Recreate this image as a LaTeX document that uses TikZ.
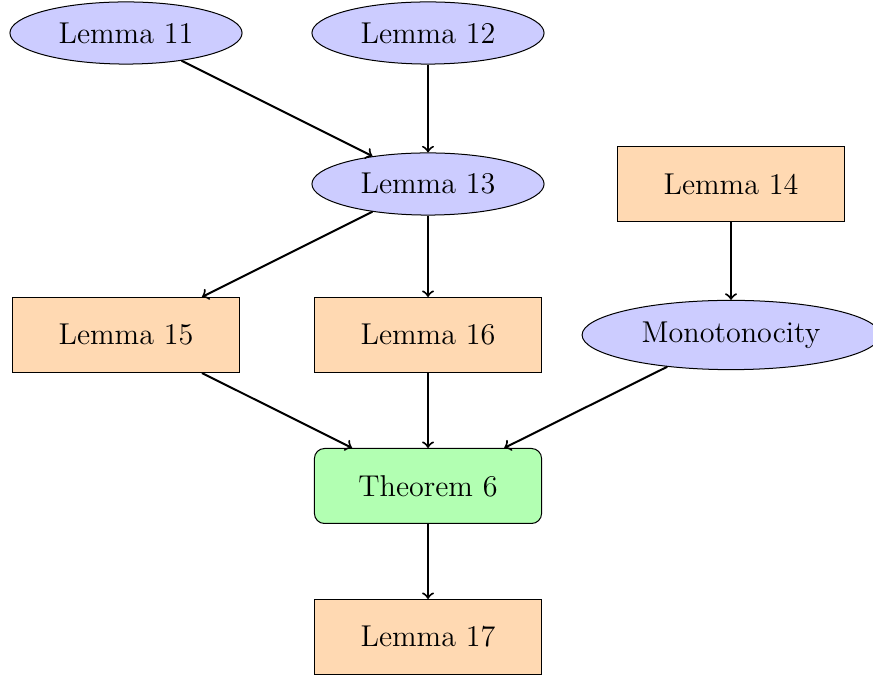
\documentclass[tikz,border=0pt]{standalone}
\usepackage{tikz}
\usetikzlibrary{shapes.geometric}
\tikzset{
  lemmaell/.style={ellipse, draw, fill=blue!20, font=\large, minimum width=3.25cm, minimum height=0.87cm},
  lemmabox/.style={rectangle, draw, fill=orange!30, font=\large, minimum width=3.18cm, minimum height=1.05cm},
  thmbox/.style={rectangle, draw, rounded corners, fill=green!30, font=\large, minimum width=3.18cm, minimum height=1.05cm},
  dep/.style={->, thick}
}

\begin{document}
\begin{tikzpicture}
  \useasboundingbox (0, 0) rectangle (12.222, 9.506);
% the nodes
  \node[lemmaell] (l11) at (1.764, 9.044) {Lemma 11};
  \node[lemmaell] (l12) at (5.992, 9.044) {Lemma 12};
  \node[lemmaell] (l13) at (5.992, 6.930) {Lemma 13};
  \node[lemmabox] (l14) at (10.234, 6.930) {Lemma 14};
  \node[lemmabox] (l15) at (1.764, 4.816) {Lemma 15};
  \node[lemmabox] (l16) at (5.992, 4.816) {Lemma 16};
  \node[lemmaell, minimum width=4.17cm, minimum height=0.97cm] (mono) at (10.234, 4.816) {Monotonocity};
  \node[thmbox] (thm6) at (5.992, 2.702) {Theorem 6};
  \node[lemmabox] (l17) at (5.992, 0.588) {Lemma 17};
% the arrows
  \draw[dep] (l11) -- (l13);
  \draw[dep] (l12) -- (l13);
  \draw[dep] (l13) -- (l15);
  \draw[dep] (l13) -- (l16);
  \draw[dep] (l14) -- (mono);
  \draw[dep] (l15) -- (thm6);
  \draw[dep] (l16) -- (thm6);
  \draw[dep] (mono) -- (thm6);
  \draw[dep] (thm6) -- (l17);
\end{tikzpicture}
\end{document}
